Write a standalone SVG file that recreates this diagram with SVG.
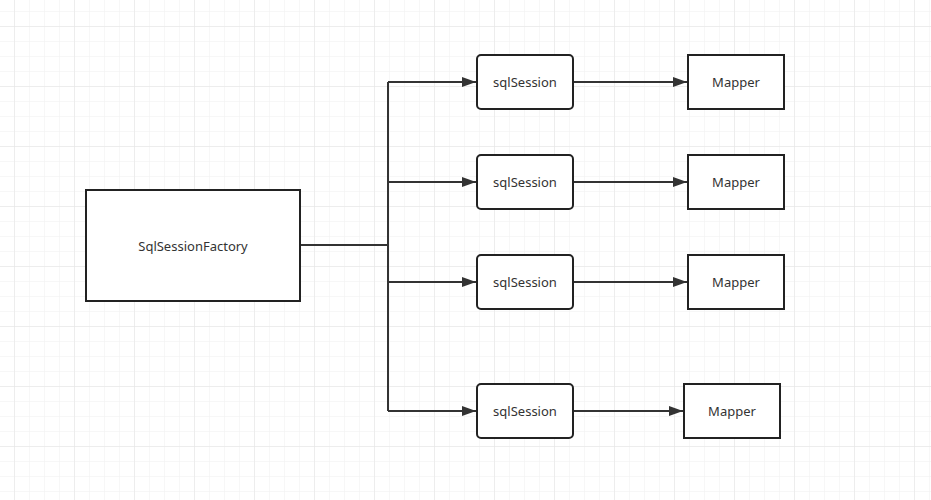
<svg xmlns="http://www.w3.org/2000/svg" width="931" height="500" viewBox="0 0 931 500">
<defs>
<pattern id="gs" x="14" y="11" width="15" height="15" patternUnits="userSpaceOnUse">
<path d="M0 0V15M0 0H15" fill="none" stroke="#efefef" stroke-width="1"/>
</pattern>
<pattern id="gl" x="14" y="26" width="60" height="60" patternUnits="userSpaceOnUse">
<path d="M0 0V60M0 0H60" fill="none" stroke="#e3e3e3" stroke-width="1"/>
</pattern>
<marker id="ah" markerWidth="14" markerHeight="10" refX="14" refY="5" orient="auto" markerUnits="userSpaceOnUse">
<path d="M0 0L14 5L0 10Z" fill="#333"/>
</marker>
</defs>
<style>
.box{fill:#fff;stroke:#222;stroke-width:2}
.t{font-family:"Noto Sans","Open Sans",sans-serif;font-size:13px;fill:#333;text-anchor:middle;dominant-baseline:central}
.c{fill:none;stroke:#333;stroke-width:2}
</style>
<rect width="931" height="500" fill="#fff"/>
<rect width="931" height="500" fill="url(#gs)"/>
<rect width="931" height="500" fill="url(#gl)"/>
<g id="connectors">
<path class="c" d="M300 245H388"/>
<path class="c" d="M388 82V411"/>
<path class="c" d="M388 82H476" marker-end="url(#ah)"/>
<path class="c" d="M388 182H476" marker-end="url(#ah)"/>
<path class="c" d="M388 282H476" marker-end="url(#ah)"/>
<path class="c" d="M388 411H476" marker-end="url(#ah)"/>
<path class="c" d="M573 82H687" marker-end="url(#ah)"/>
<path class="c" d="M573 182H687" marker-end="url(#ah)"/>
<path class="c" d="M573 282H687" marker-end="url(#ah)"/>
<path class="c" d="M573 411H683" marker-end="url(#ah)"/>
</g>
<g id="factory"><rect class="box" x="86" y="190" width="214" height="111"/><text class="t" x="193" y="246">SqlSessionFactory</text></g>
<g id="session1"><rect class="box" x="477" y="55" width="96" height="54" rx="4"/><text class="t" x="525" y="82">sqlSession</text></g>
<g id="session2"><rect class="box" x="477" y="155" width="96" height="54" rx="4"/><text class="t" x="525" y="182">sqlSession</text></g>
<g id="session3"><rect class="box" x="477" y="255" width="96" height="54" rx="4"/><text class="t" x="525" y="282">sqlSession</text></g>
<g id="session4"><rect class="box" x="477" y="384" width="96" height="54" rx="4"/><text class="t" x="525" y="411">sqlSession</text></g>
<g id="mapper1"><rect class="box" x="688" y="55" width="96" height="54"/><text class="t" x="736" y="82">Mapper</text></g>
<g id="mapper2"><rect class="box" x="688" y="155" width="96" height="54"/><text class="t" x="736" y="182">Mapper</text></g>
<g id="mapper3"><rect class="box" x="688" y="255" width="96" height="54"/><text class="t" x="736" y="282">Mapper</text></g>
<g id="mapper4"><rect class="box" x="684" y="384" width="96" height="54"/><text class="t" x="732" y="411">Mapper</text></g>
</svg>
